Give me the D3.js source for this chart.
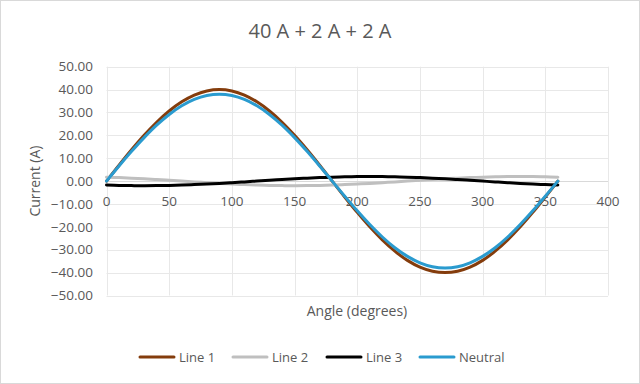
<!DOCTYPE html>
<html lang="en">
<head>
    <meta charset="UTF-8">
    <title>40 A + 2 A + 2 A</title>
    <script src="https://d3js.org/d3.v7.min.js"></script>
    <style>
        body { margin: 0; background: #fff; }
        svg { display: block; font-family: 'Open Sans', sans-serif; }
    </style>
</head>
<body>
    <svg width="640" height="384"></svg>
    <script>
        // angle in degrees, 10 degree steps
        const angles = [0, 10, 20, 30, 40, 50, 60, 70, 80, 90, 100, 110, 120, 130, 140, 150, 160, 170, 180,
            190, 200, 210, 220, 230, 240, 250, 260, 270, 280, 290, 300, 310, 320, 330, 340, 350, 360];

        const line1 = [0, 6.95, 13.68, 20.00, 25.71, 30.64, 34.64, 37.59, 39.39, 40.00, 39.39, 37.59, 34.64, 30.64, 25.71, 20.00, 13.68, 6.95, 0,
            -6.95, -13.68, -20.00, -25.71, -30.64, -34.64, -37.59, -39.39, -40.00, -39.39, -37.59, -34.64, -30.64, -25.71, -20.00, -13.68, -6.95, 0];
        const line2 = [1.73, 1.53, 1.29, 1.00, 0.68, 0.35, 0, -0.35, -0.68, -1.00, -1.29, -1.53, -1.73, -1.88, -1.97, -2.00, -1.97, -1.88, -1.73,
            -1.53, -1.29, -1.00, -0.68, -0.35, 0, 0.35, 0.68, 1.00, 1.29, 1.53, 1.73, 1.88, 1.97, 2.00, 1.97, 1.88, 1.73];
        const line3 = [-1.73, -1.88, -1.97, -2.00, -1.97, -1.88, -1.73, -1.53, -1.29, -1.00, -0.68, -0.35, 0, 0.35, 0.68, 1.00, 1.29, 1.53, 1.73,
            1.88, 1.97, 2.00, 1.97, 1.88, 1.73, 1.53, 1.29, 1.00, 0.68, 0.35, 0, -0.35, -0.68, -1.00, -1.29, -1.53, -1.73];
        const neutral = [0, 6.60, 13.00, 19.00, 24.43, 29.11, 32.91, 35.71, 37.42, 38.00, 37.42, 35.71, 32.91, 29.11, 24.43, 19.00, 13.00, 6.60, 0,
            -6.60, -13.00, -19.00, -24.43, -29.11, -32.91, -35.71, -37.42, -38.00, -37.42, -35.71, -32.91, -29.11, -24.43, -19.00, -13.00, -6.60, 0];

        const seriesNames = ["Line 1", "Line 2", "Line 3", "Neutral"];
        const xTicks = [0, 50, 100, 150, 200, 250, 300, 350, 400];
        const yTicks = [-50, -40, -30, -20, -10, 0, 10, 20, 30, 40, 50];

        const colors = ["#843c0c", "#bfbfbf", "#000000", "#2a9bcf"];
        const series = [line1, line2, line3, neutral].map((vals, i) => ({
            name: seriesNames[i],
            color: colors[i],
            points: angles.map((a, j) => ({ x: a, y: vals[j] }))
        }));

        const svg = d3.select("svg");
        const textColor = "#595959";

        // chart border
        svg.append("rect")
            .attr("x", 0.5).attr("y", 0.5)
            .attr("width", 639).attr("height", 383)
            .attr("fill", "#fff")
            .attr("stroke", "#d9d9d9");

        const x = d3.scaleLinear().domain([0, 400]).range([106.5, 608]);
        const y = d3.scaleLinear().domain([-50, 50]).range([295.5, 66.7]);

        // gridlines
        svg.append("g")
            .selectAll("line.h")
            .data(yTicks)
            .join("line")
            .attr("x1", x(0)).attr("x2", x(400))
            .attr("y1", d => Math.round(y(d)) + 0.5).attr("y2", d => Math.round(y(d)) + 0.5)
            .attr("stroke", "#e8e8e8");

        svg.append("g")
            .selectAll("line.v")
            .data(xTicks)
            .join("line")
            .attr("x1", d => Math.round(x(d)) + 0.5).attr("x2", d => Math.round(x(d)) + 0.5)
            .attr("y1", y(50)).attr("y2", y(-50))
            .attr("stroke", "#e8e8e8");

        // zero axis line
        svg.append("line")
            .attr("x1", x(0)).attr("x2", x(400))
            .attr("y1", Math.round(y(0)) + 0.5).attr("y2", Math.round(y(0)) + 0.5)
            .attr("stroke", "#d9d9d9");

        // y tick labels
        svg.append("g")
            .selectAll("text")
            .data(yTicks)
            .join("text")
            .attr("x", 93)
            .attr("y", d => y(d))
            .attr("dy", "0.35em")
            .attr("text-anchor", "end")
            .attr("font-size", 13.5)
            .attr("fill", textColor)
            .text(d => d3.format(".2f")(d));

        // x tick labels sit along the zero line
        svg.append("g")
            .selectAll("text")
            .data(xTicks)
            .join("text")
            .attr("x", d => x(d))
            .attr("y", y(0) + 25)
            .attr("text-anchor", "middle")
            .attr("font-size", 13.5)
            .attr("fill", textColor)
            .text(d => d);

        // lines
        const line = d3.line()
            .x(d => x(d.x))
            .y(d => y(d.y))
            .curve(d3.curveCatmullRom);

        svg.append("g")
            .selectAll("path")
            .data(series)
            .join("path")
            .attr("d", d => line(d.points))
            .attr("fill", "none")
            .attr("stroke", d => d.color)
            .attr("stroke-width", 3)
            .attr("stroke-linecap", "round");

        // title
        svg.append("text")
            .attr("x", 320).attr("y", 38)
            .attr("text-anchor", "middle")
            .attr("font-size", 20)
            .attr("fill", textColor)
            .text("40 A + 2 A + 2 A");

        // axis titles
        svg.append("text")
            .attr("transform", `translate(40,${y(0)}) rotate(-90)`)
            .attr("text-anchor", "middle")
            .attr("font-size", 14)
            .attr("fill", textColor)
            .text("Current (A)");

        svg.append("text")
            .attr("x", 357).attr("y", 316)
            .attr("text-anchor", "middle")
            .attr("font-size", 14)
            .attr("fill", textColor)
            .text("Angle (degrees)");

        // legend
        const legendX = [140, 233, 327, 420];
        const legend = svg.append("g")
            .selectAll("g")
            .data(series)
            .join("g")
            .attr("transform", (d, i) => `translate(${legendX[i]},357)`);

        legend.append("line")
            .attr("x1", 0).attr("x2", 34)
            .attr("stroke", d => d.color)
            .attr("stroke-width", 3)
            .attr("stroke-linecap", "round");

        legend.append("text")
            .attr("x", 39)
            .attr("dy", "0.35em")
            .attr("font-size", 13)
            .attr("fill", textColor)
            .text(d => d.name);
    </script>
</body>
</html>
